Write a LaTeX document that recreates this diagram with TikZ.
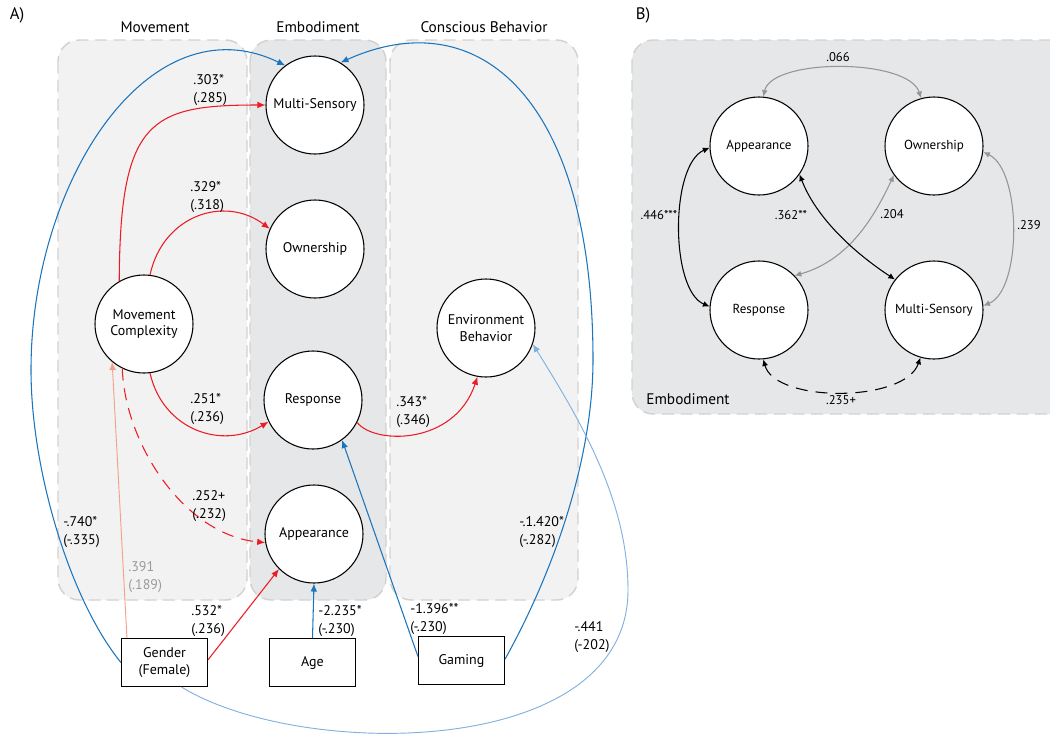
\documentclass[tikz,border=0pt]{standalone}
\usepackage{fontspec}
\setmainfont{PT Sans}
\usetikzlibrary{arrows.meta}
\definecolor{panelL}{HTML}{F2F2F2}
\definecolor{panelD}{HTML}{E6E7E8}
\definecolor{dashc}{HTML}{D2D2D2}
\definecolor{redc}{HTML}{ED1C24}
\definecolor{bluec}{HTML}{1C75BC}
\definecolor{lbluec}{HTML}{80B1E0}
\definecolor{salmonc}{HTML}{F4A08C}
\definecolor{grayc}{HTML}{939598}
\definecolor{labgray}{HTML}{9A9A9A}
\tikzset{
  panel/.style={draw=dashc, line width=1.1pt, dash pattern=on 9pt off 5pt, rounded corners=16pt},
  latent/.style={circle, draw=black, fill=white, line width=0.8pt, minimum size=73.5pt, inner sep=0pt, align=center, font=\fontsize{10.5}{12.5}\selectfont},
  latentB/.style={circle, draw=black, fill=white, line width=0.8pt, minimum size=73.5pt, inner sep=0pt, align=center, font=\fontsize{9.8}{11.5}\selectfont},
  obs/.style={rectangle, draw=black, fill=white, line width=0.8pt, minimum width=64.5pt, minimum height=36pt, inner sep=0pt, align=center, font=\fontsize{10.5}{12.5}\selectfont},
  title/.style={font=\fontsize{11.5}{13.5}\selectfont, inner sep=0pt},
  lab/.style={font=\fontsize{10.5}{13.5}\selectfont, align=left, anchor=west, inner sep=0pt},
  labB/.style={font=\fontsize{9.5}{11}\selectfont, inner sep=0pt},
  tipA/.style={-{Latex[length=6pt,width=5pt]}},
  redarr/.style={tipA, draw=redc, line width=0.8pt},
  bluearr/.style={tipA, draw=bluec, line width=0.8pt},
  lbluearr/.style={tipA, draw=lbluec, line width=0.7pt},
  salarr/.style={tipA, draw=salmonc, line width=0.7pt},
  cov/.style={{Latex[length=5pt,width=4.5pt]}-{Latex[length=5pt,width=4.5pt]}, line width=0.8pt},
  covblack/.style={cov, draw=black},
  covgray/.style={cov, draw=grayc},
}
\begin{document}
\begin{tikzpicture}[x=0.75pt,y=-0.75pt]
\clip (0,0) rectangle (1050,736);
\useasboundingbox (0,0) rectangle (1050,736);

% panels A
\path[panel, fill=panelL] (58,40) rectangle (247,600);
\path[panel, fill=panelD] (250,40) rectangle (386,600);
\path[panel, fill=panelL] (390,40) rectangle (578,600);
% panel B
\path[panel, fill=panelD] (632,40) rectangle (1080,414);

\node[font=\fontsize{12.5}{14}\selectfont, inner sep=0pt] (labA) at (17,15) {A)};
\node[font=\fontsize{12.5}{14}\selectfont, inner sep=0pt] (labBB) at (643,15) {B)};

\node[title] (tMov) at (155,27) {Movement};
\node[title] (tEmb) at (318,27) {Embodiment};
\node[title] (tCon) at (484,27) {Conscious Behavior};

% nodes A
\node[latent] (MS) at (315,105) {Multi-Sensory};
\node[latent] (Own) at (315,249) {Ownership};
\node[latent] (MC) at (144,324) {Movement\\Complexity};
\node[latent] (Resp) at (313,400) {Response};
\node[latent] (App) at (314,534) {Appearance};
\node[latent] (EB) at (486,328) {Environment\\Behavior};
\node[obs] (Gen) at (164.5,662.5) {Gender\\(Female)};
\node[obs] (Age) at (312.5,662.5) {Age};
\node[obs] (Gam) at (461.5,660.5) {Gaming};

% red paths
\draw[redarr] (MC.120) .. controls (120,120) and (150,105) .. (MS.180);
\draw[redarr] (MC.83) .. controls (163,215) and (225,195) .. (Own.156);
\draw[redarr] (MC.-83) .. controls (163,430) and (222,450) .. (Resp.206);
\draw[redarr, dash pattern=on 9pt off 6pt] (MC.-116) .. controls (125,445) and (185,535) .. (App.190);
\draw[redarr] ([yshift=2pt]Gen.east) -- (App.-135);
\draw[redarr] (Resp.-27) .. controls (375,445) and (455,445) .. (EB.-100);

% salmon
\draw[salarr] ([xshift=4.5pt]Gen.north west) -- (MC.-130);

% blue
\coordinate (bl1) at (31,370);
\draw[bluearr] (Gen.west) .. controls (70,600) and (31,470) .. (bl1) .. controls (31,180) and (150,0) .. (MS.127);
\coordinate (bl2) at (593,360);
\draw[bluearr] ([yshift=1pt]Gam.east) .. controls (560,560) and (593,450) .. (bl2) .. controls (593,100) and (480,0) .. (MS.59);
\draw[bluearr] (Age.north) -- (App.-90);
\draw[bluearr] ([yshift=3pt]Gam.west) -- (Resp.-54);
\coordinate (bl3) at (628,590);
\draw[lbluearr] ([xshift=12.75pt]Gen.south) .. controls (300,760) and (628,760) .. (bl3) .. controls (628,500) and (580,420) .. (EB.-19);

% labels A
\node[lab] (l1) at (193,90) {.303*\\(.285)};
\node[lab] (l2) at (190,197) {.329*\\(.318)};
\node[lab] (l3) at (190,409) {.251*\\(.236)};
\node[lab] (l4) at (192,506) {.252+\\(.232)};
\node[lab] (l5) at (191,621) {.532*\\(.236)};
\node[lab, text=labgray] (l6) at (128,577) {.391\\(.189)};
\node[lab] (l7) at (63,532) {-.740*\\(-.335)};
\node[lab] (l8) at (318,621) {-2.235*\\(-.230)};
\node[lab] (l9) at (410,619) {-1.396**\\(-.230)};
\node[lab] (l10) at (519,532) {-.1.420*\\(-.282)};
\node[lab] (l11) at (574,637) {-.441\\(-202)};
\node[lab] (l12) at (396,412) {.343*\\(.346)};

% panel B nodes
\node[latentB] (AppB) at (759,146) {Appearance};
\node[latentB] (OwnB) at (934,146) {Ownership};
\node[latentB] (RespB) at (759,310) {Response};
\node[latentB] (MSB) at (934,310) {Multi-Sensory};
\node[title] (tEmbB) at (688,399) {Embodiment};

\draw[covgray] (AppB.85) .. controls (772,58) and (908,58) .. (OwnB.105);
\draw[covblack] (AppB.182) .. controls (670,165) and (670,290) .. (RespB.176);
\draw[covgray] (OwnB.-7) .. controls (1022,170) and (1022,290) .. (MSB.5);
\draw[covgray] (OwnB.-144) .. controls (875,215) and (850,260) .. (RespB.44);
\draw[covblack] (AppB.-35) .. controls (815,215) and (850,250) .. (MSB.142);
\draw[covblack, dash pattern=on 9pt off 6pt] (RespB.-85) .. controls (775,403) and (905,403) .. (MSB.-106);

\node[labB] (b1) at (838,57) {.066};
\node[labB] (b2) at (659,215) {.446***};
\node[labB] (b3) at (791,215) {.362**};
\node[labB] (b4) at (892,214) {.204};
\node[labB] (b5) at (1029,225) {.239};
\node[labB] (b6) at (841,400) {.235+};
\end{tikzpicture}
\end{document}
